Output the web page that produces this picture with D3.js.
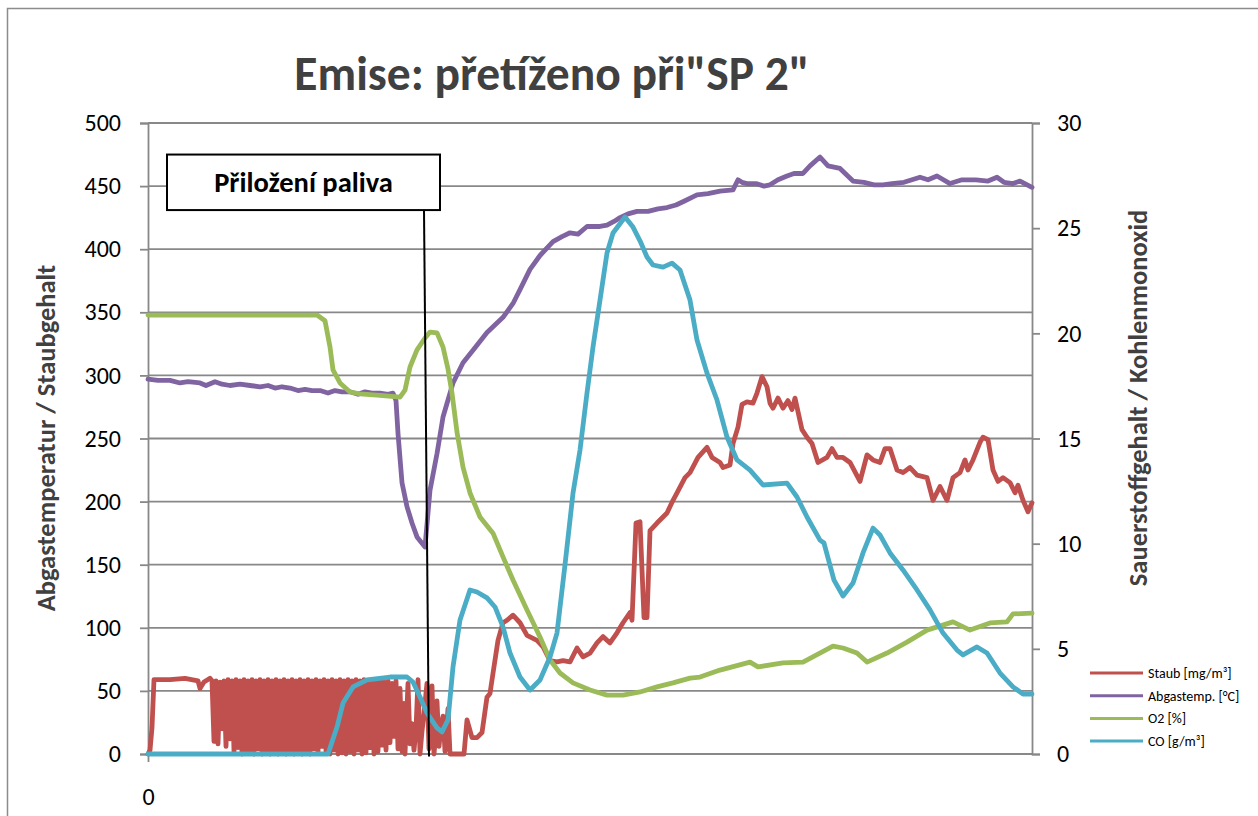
<!DOCTYPE html>
<html>
<head>
<meta charset="utf-8">
<script src="https://cdn.jsdelivr.net/npm/d3@7"></script>
<style>
  body { margin: 0; background: #fff; }
  svg { display: block; }
</style>
</head>
<body>
<svg id="chart" width="1258" height="816"></svg>
<script>
const staub = [
  [0, 0], [1, 3], [2, 21], [3, 59], [11, 59], [18.5, 60], [25, 58], [26, 52], [28, 57], [31, 60], [32, 58],
  [33, 10], [34, 58], [35, 8], [36, 57], [37, 20], [38, 58], [39, 6], [40, 59], [41, 12], [42, 58],
  [43, 2], [44, 59], [45, 5], [46, 58], [47, 0], [48, 59], [49, 3], [50, 58], [51, 1], [52, 59],
  [53, 0], [54, 58], [55, 4], [56, 59], [57, 0], [58, 58], [59, 2], [60, 59], [61, 0], [62, 58],
  [63, 3], [64, 59], [65, 0], [66, 58], [67, 1], [68, 59], [69, 0], [70, 58], [71, 2], [72, 59],
  [73, 0], [74, 58], [75, 3], [76, 59], [77, 0], [78, 58], [79, 1], [80, 59], [81, 0], [82, 58],
  [83, 4], [84, 59], [85, 1], [86, 58], [87, 6], [88, 59], [89, 2], [90, 58], [91, 0], [92, 59],
  [93, 3], [94, 58], [95, 0], [96, 59], [97, 1], [98, 58], [99, 0], [100, 59], [101, 2], [102, 58],
  [103, 0], [104, 59], [105, 3], [106, 58], [107, 0], [108, 59], [109, 1], [110, 58], [111, 5], [112, 59],
  [113, 0], [114, 58], [115, 2], [116, 59], [117, 7], [118, 57], [119, 3], [120, 58], [121, 9], [122, 56],
  [123, 14], [124, 58], [125, 4], [126, 52], [127, 2], [127.8, 40], [128.5, 0], [130, 56], [131, 8],
  [132, 24], [133, 3], [134, 20], [135, 59], [136, 0], [137, 18], [138, 32], [139.5, 56], [140.5, 4],
  [141.5, 20], [142, 54], [143, 0], [144, 18], [144.5, 42], [145.5, 6], [146.5, 22], [147.5, 30],
  [148.5, 2], [150, 36], [151, 0], [155, 0], [158, 0],
  [159.5, 27], [162, 13], [164.5, 13], [167, 17], [169.5, 45], [171, 48], [172.5, 64], [175, 90], [177.5, 104],
  [179.5, 106], [182.5, 110], [186, 104], [189.5, 94], [194.5, 90], [197.5, 85], [201, 74], [204.5, 73],
  [207.5, 74], [211, 73], [214.5, 84], [217.5, 77], [221, 80], [224.5, 88], [227.5, 93], [231, 88], [234.5, 96],
  [237.5, 104], [241, 112], [242, 106], [244, 183], [246, 184], [248, 108], [249.5, 108], [251, 177],
  [254.5, 183], [259.5, 191], [262.5, 201], [264.5, 207], [268.5, 219], [271, 223], [275, 235], [279.5, 243],
  [282, 235], [286, 231], [287.5, 227], [291, 229], [292.5, 246], [295, 259], [297, 277], [299.5, 279],
  [302.5, 278], [304.5, 286], [307, 299], [309.5, 291], [311, 278], [312.5, 274], [315, 282], [317.5, 274],
  [320, 280], [322, 273], [323.5, 282], [327, 257], [329.5, 251], [332, 246], [335, 231], [339.5, 235],
  [342, 242], [344.5, 235], [347.5, 235], [351, 231], [356, 216], [359.5, 237], [362.5, 233], [366, 231],
  [368.5, 242], [371, 242], [374.5, 225], [377.5, 223], [381, 227], [384.5, 221], [389.5, 219], [392.5, 201],
  [396, 212], [399.5, 201], [402.5, 219], [406, 223], [408.5, 233], [410, 225], [412.5, 233], [416, 247],
  [417.5, 251], [420, 249], [422.5, 225], [425, 216], [427.5, 219], [431, 215], [433.5, 207], [435, 213],
  [437.5, 201], [440, 192], [442, 199]
];

const abgastemp = [
  [0, 297], [5, 296], [11, 296], [16, 294], [20, 295], [26, 294], [29, 292], [33.5, 295], [37, 293], [41, 292],
  [46, 293], [51, 292], [56, 291], [60, 292], [63.5, 290], [67, 291], [71, 290], [75, 288], [78.5, 289],
  [82, 288], [86, 288], [90, 286], [93.5, 288], [97, 287], [101, 287], [105, 285], [108.5, 287], [112, 286],
  [116, 286], [120, 285], [122.5, 286], [124, 280],
  [125, 254], [127, 215], [129.5, 196], [132, 183], [134.5, 172], [138.5, 164], [141, 209], [144.5, 238],
  [147.5, 267], [152.5, 294], [157.5, 310], [162.5, 320], [169.5, 334], [177.5, 346], [182.5, 357],
  [186, 368], [191, 384], [196, 395], [202.5, 406], [207, 410], [211, 413], [215, 412], [219.5, 418],
  [226, 418], [229.5, 419], [233, 422], [236, 425], [240, 428], [244.5, 430], [250, 430], [255, 432],
  [259.5, 433], [264, 435], [268, 438], [274.5, 443], [280, 444], [286, 446], [292.5, 447], [295, 455],
  [297, 453], [299.5, 452], [304, 452], [308, 450], [311, 451], [315, 455], [319.5, 458], [323, 460],
  [327.5, 460], [331, 466], [336, 473], [340, 466], [346, 464], [352.5, 454], [358, 453], [363, 451],
  [367.5, 451], [372, 452], [378, 453], [386, 457], [390, 455], [394.5, 458], [401, 452], [407, 455],
  [414, 455], [420, 454], [424.5, 457], [428, 453], [432.5, 452], [436, 454], [442, 449]
];

const o2 = [
  [0, 20.87], [84.5, 20.87], [88.5, 20.6], [91, 19.35], [92.5, 18.26], [96, 17.64], [101, 17.21],
  [106, 17.12], [116, 17.05], [126, 16.97], [128.5, 17.3], [131, 18.4], [134.5, 19.21], [138.5, 19.78],
  [141, 20.06], [144.5, 20.02], [147.5, 19.35], [150, 18.3], [152, 17.16], [154.5, 15.3], [157.5, 13.64],
  [161, 12.41], [166, 11.27], [172.5, 10.5], [177.5, 9.37], [182.5, 8.27], [189.5, 6.85], [196, 5.56],
  [201, 4.47], [206, 3.85], [212.5, 3.38], [221, 3.04], [229.5, 2.8], [237.5, 2.8], [246, 2.95],
  [254.5, 3.19], [262.5, 3.38], [271, 3.61], [276, 3.66], [286, 3.99], [301, 4.37], [305, 4.14],
  [317.5, 4.33], [327.5, 4.37], [342.5, 5.13], [347.5, 5.04], [354.5, 4.8], [359.5, 4.37], [369.5, 4.8],
  [379.5, 5.32], [389.5, 5.89], [402.5, 6.28], [411, 5.89], [421, 6.23], [429.5, 6.28], [432.5, 6.66],
  [442, 6.7]
];

const co = [
  [0, 0], [90, 0], [94.5, 1.28], [97.5, 2.42], [102.5, 3.19], [109.5, 3.52], [121, 3.66], [129.5, 3.66],
  [132.5, 3.42], [136, 2.71], [139.5, 1.95], [144.5, 1.24], [147, 1.05], [150, 1.62], [152.5, 4.14],
  [156, 6.37], [161, 7.8], [164.5, 7.7], [169.5, 7.42], [173.5, 6.99], [177.5, 6.04], [181, 4.8],
  [186, 3.66], [191, 3.04], [196, 3.52], [201, 4.61], [204.5, 5.75], [208.5, 9.0], [212.5, 12.4],
  [216, 14.45], [219.5, 17.16], [222.5, 19.35], [226, 21.58], [229.5, 23.82], [232.5, 24.77],
  [238.5, 25.53], [242.5, 25.05], [246, 24.4], [249.5, 23.63], [252.5, 23.25], [257.5, 23.15],
  [262, 23.34], [266, 23.01], [271, 21.58], [274.5, 19.68], [279.5, 18.11], [284.5, 16.83], [289.5, 15.07],
  [294.5, 13.98], [301, 13.5], [307.5, 12.79], [319.5, 12.88], [324.5, 12.22], [329.5, 11.27], [336, 10.17],
  [338, 10.03], [343, 8.27], [347.5, 7.51], [352.5, 8.13], [357.5, 9.56], [362.5, 10.74], [366, 10.41],
  [371, 9.56], [377.5, 8.75], [384.5, 7.8], [391, 6.85], [397.5, 5.75], [404.5, 4.94], [407.5, 4.71],
  [414.5, 5.09], [419.5, 4.8], [426, 3.85], [432.5, 3.19], [437.5, 2.85], [442, 2.85]
];

const leftTicks = d3.range(0, 501, 50);
const rightTicks = d3.range(0, 31, 5);
const seriesNames = ["Staub [mg/m³]", "Abgastemp. [°C]", "O2 [%]", "CO [g/m³]"];
const seriesColors = ["#C0504D", "#8064A2", "#9BBB59", "#4BACC6"];

// annotation "Přiložení paliva": box corners and pointer line in data units
const noteBox = { t0: 9.5, t1: 146, v0: 475, v1: 431 };
const noteLine = [[138, 431], [140.5, -2]];

const font = "Carlito, Calibri, Lato, 'Open Sans', sans-serif";
const margin = { left: 148, right: 226, top: 123, bottom: 62 };
const width = 1258, height = 816;

const svg = d3.select("#chart").attr("font-family", font);

// outer chart frame
svg.append("rect")
  .attr("x", 7.5).attr("y", 8.5)
  .attr("width", 1300).attr("height", 900)
  .attr("fill", "none").attr("stroke", "#8c8c8c").attr("stroke-width", 1.5);

const x = d3.scaleLinear().domain([0, 442]).range([margin.left, width - margin.right]);
const yL = d3.scaleLinear().domain([0, 500]).range([height - margin.bottom, margin.top]);
const yR = d3.scaleLinear().domain([0, 30]).range([height - margin.bottom, margin.top]);

// gridlines
svg.append("g")
  .selectAll("line")
  .data(leftTicks)
  .join("line")
  .attr("x1", x(0)).attr("x2", x(442))
  .attr("y1", d => yL(d)).attr("y2", d => yL(d))
  .attr("stroke", "#888").attr("stroke-width", 1.8);

// left axis
const axisL = svg.append("g")
  .attr("transform", `translate(${x(0)},0)`)
  .call(d3.axisLeft(yL).tickValues(leftTicks).tickSize(8).tickPadding(19));
// right axis
const axisR = svg.append("g")
  .attr("transform", `translate(${x(442)},0)`)
  .call(d3.axisRight(yR).tickValues(rightTicks).tickSize(8).tickPadding(17));
// x axis: only "0"
const axisB = svg.append("g")
  .attr("transform", `translate(0,${yL(0)})`)
  .call(d3.axisBottom(x).tickValues([0]).tickSize(8).tickPadding(26));

[axisL, axisR, axisB].forEach(a => {
  a.select(".domain").attr("stroke", "#888").attr("stroke-width", 1.8);
  a.selectAll(".tick line").attr("stroke", "#888").attr("stroke-width", 1.8);
  a.selectAll(".tick text").attr("font-size", 24).attr("fill", "#000").attr("font-family", font);
});
axisB.select(".domain").remove();

// series lines
const lineL = d3.line().x(d => x(d[0])).y(d => yL(d[1]));
const lineR = d3.line().x(d => x(d[0])).y(d => yR(d[1]));

const plot = svg.append("g")
  .attr("fill", "none")
  .attr("stroke-width", 4.8)
  .attr("stroke-linejoin", "round")
  .attr("stroke-linecap", "round");

plot.append("path").datum(staub).attr("d", lineL).attr("stroke", seriesColors[0]);
plot.append("path").datum(abgastemp).attr("d", lineL).attr("stroke", seriesColors[1]);
plot.append("path").datum(o2).attr("d", lineR).attr("stroke", seriesColors[2]);
plot.append("path").datum(co).attr("d", lineR).attr("stroke", seriesColors[3]);

// annotation
svg.append("line")
  .attr("x1", x(noteLine[0][0])).attr("y1", yL(noteLine[0][1]))
  .attr("x2", x(noteLine[1][0])).attr("y2", yL(noteLine[1][1]))
  .attr("stroke", "#000").attr("stroke-width", 2);
svg.append("rect")
  .attr("x", x(noteBox.t0)).attr("y", yL(noteBox.v0))
  .attr("width", x(noteBox.t1) - x(noteBox.t0))
  .attr("height", yL(noteBox.v1) - yL(noteBox.v0))
  .attr("fill", "#fff").attr("stroke", "#000").attr("stroke-width", 2);
svg.append("text")
  .attr("x", (x(noteBox.t0) + x(noteBox.t1)) / 2)
  .attr("y", (yL(noteBox.v0) + yL(noteBox.v1)) / 2)
  .attr("dy", "0.34em")
  .attr("text-anchor", "middle")
  .attr("font-size", 28.5).attr("font-weight", "bold")
  .text("Přiložení paliva");

// title
svg.append("text")
  .attr("x", 552).attr("y", 90)
  .attr("text-anchor", "middle")
  .attr("font-size", 47.5).attr("font-weight", "bold")
  .attr("fill", "#404040")
  .text("Emise: přetíženo při\"SP 2\"");

// axis titles
svg.append("text")
  .attr("transform", `translate(55,438) rotate(-90)`)
  .attr("text-anchor", "middle")
  .attr("font-size", 26.5).attr("font-weight", "bold")
  .attr("fill", "#404040")
  .text("Abgastemperatur / Staubgehalt");
svg.append("text")
  .attr("transform", `translate(1147,398) rotate(-90)`)
  .attr("text-anchor", "middle")
  .attr("font-size", 26.5).attr("font-weight", "bold")
  .attr("fill", "#404040")
  .text("Sauerstoffgehalt / Kohlenmonoxid");

// legend
const legend = svg.append("g")
  .selectAll("g")
  .data(seriesNames)
  .join("g")
  .attr("transform", (d, i) => `translate(1090,${673 + i * 22.7})`);
legend.append("line")
  .attr("x1", 0).attr("x2", 53)
  .attr("stroke", (d, i) => seriesColors[i]).attr("stroke-width", 3);
legend.append("text")
  .attr("x", 58).attr("dy", "0.35em")
  .attr("font-size", 14).attr("fill", "#000")
  .text(d => d);
</script>
</body>
</html>
